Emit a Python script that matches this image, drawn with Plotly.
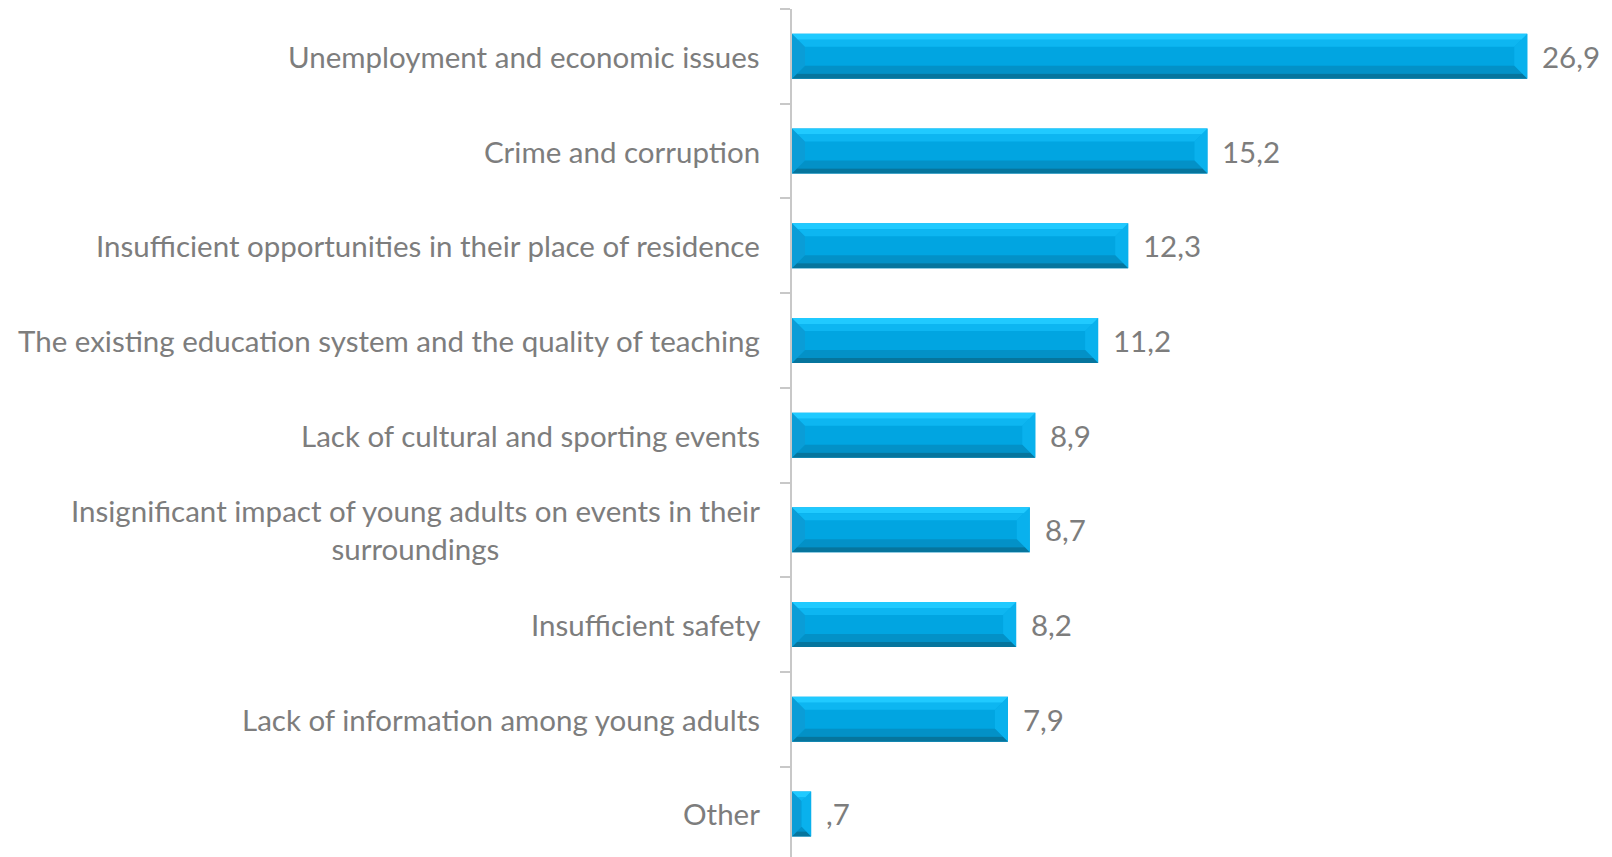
import plotly.graph_objects as go

# Survey results: main problems young adults see in their surroundings (%)
categories = [
    "Unemployment and economic issues",
    "Crime and corruption",
    "Insufficient opportunities in their place of residence",
    "The existing education system and the quality of teaching",
    "Lack of cultural and sporting events",
    "Insignificant impact of young adults on events in their<br>surroundings",
    "Insufficient safety",
    "Lack of information among young adults",
    "Other",
]
values = [26.9, 15.2, 12.3, 11.2, 8.9, 8.7, 8.2, 7.9, 0.7]


def fmt(v):
    s = f"{v:.1f}".replace(".", ",")
    return s[1:] if s.startswith("0") else s


positions = list(range(len(categories)))

W, H = 1612, 857
ML, MR, MT, MB = 792, 0, 9, 0
X_MAX = 30.0
BAR_W = 0.475
px_per_x = (W - ML - MR) / X_MAX
px_per_y = 94.7
y_bottom = -0.5 + (H - MT - MB) / px_per_y

MAIN = "#01a5e1"
BEVEL = 13  # bevel depth in pixels

fig = go.Figure()

fig.add_trace(go.Bar(
    x=values, y=positions, orientation="h", width=BAR_W,
    marker=dict(color=MAIN, line=dict(width=0)),
    hoverinfo="skip", showlegend=False,
))

# bevel bands: (side, depth from, depth to, colour); depths in pixels
bands = [
    ("left", 0, BEVEL, "#0a9dd7"),
    ("right", 0, BEVEL, "#09b1ed"),
    ("top", 0, 6, "#20caff"),
    ("top", 6, BEVEL, "#0db6f1"),
    ("bottom", 5, BEVEL, "#0391c7"),
    ("bottom", 0, 5, "#06759d"),
]

h = BAR_W / 2
for side, a_px, b_px, col in bands:
    xs, ys = [], []
    for v, p in zip(values, positions):
        vpx = v * px_per_x
        lim = min(vpx / 2, h * px_per_y)
        a, b = min(a_px, lim), min(b_px, lim)
        ax, bx = a / px_per_x, b / px_per_x
        ay, by = a / px_per_y, b / px_per_y
        y0, y1 = p - h, p + h  # y0 is the upper edge (axis reversed)
        if side == "top":
            pts = [(ax, y0 + ay), (v - ax, y0 + ay), (v - bx, y0 + by), (bx, y0 + by)]
        elif side == "bottom":
            pts = [(ax, y1 - ay), (v - ax, y1 - ay), (v - bx, y1 - by), (bx, y1 - by)]
        elif side == "left":
            pts = [(0, y0), (bx, y0 + by), (bx, y1 - by), (0, y1)]
        else:
            pts = [(v, y0), (v - bx, y0 + by), (v - bx, y1 - by), (v, y1)]
        xs.extend([q[0] for q in pts] + [pts[0][0], None])
        ys.extend([q[1] for q in pts] + [pts[0][1], None])
    fig.add_trace(go.Scatter(
        x=xs, y=ys, mode="lines", fill="toself", fillcolor=col,
        line=dict(width=0, color=col), hoverinfo="skip", showlegend=False,
    ))

FONT = "Lato"
GRAY = "#7d7d7d"
SIZE = 29.5

annotations = []
for cat, p in zip(categories, positions):
    annotations.append(dict(
        x=0, y=p, xref="x", yref="y", text=cat, showarrow=False,
        xanchor="right", yanchor="middle", align="center", xshift=-30,
        font=dict(family=FONT, size=SIZE, color=GRAY),
    ))
for v, p in zip(values, positions):
    annotations.append(dict(
        x=v, y=p, xref="x", yref="y", text=fmt(v), showarrow=False,
        xanchor="left", yanchor="middle", xshift=13,
        font=dict(family=FONT, size=SIZE, color=GRAY),
    ))

fig.update_layout(
    width=W, height=H,
    margin=dict(l=ML, r=MR, t=MT, b=MB, pad=0),
    paper_bgcolor="white", plot_bgcolor="white",
    barmode="overlay",
    annotations=annotations,
    xaxis=dict(range=[0, X_MAX], visible=False, fixedrange=True),
    yaxis=dict(
        range=[y_bottom, -0.5], showgrid=False, zeroline=False,
        showline=True, linecolor="#c8c8c8", linewidth=2,
        ticks="outside", ticklen=10, tickcolor="#c8c8c8", tickwidth=2,
        tickvals=[i - 0.5 for i in range(len(categories) + 1)],
        showticklabels=False,
    ),
)

fig.write_html("out.html")
